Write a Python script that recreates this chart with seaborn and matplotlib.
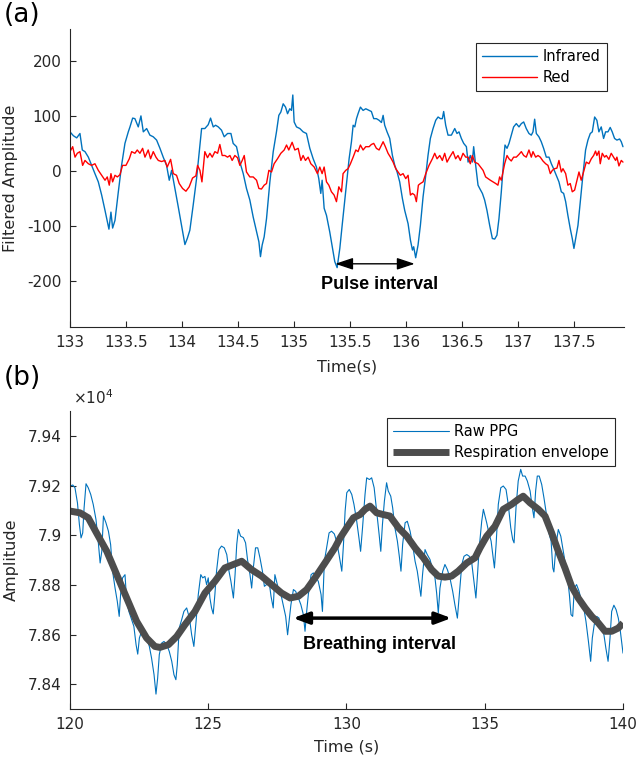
import numpy as np
import pandas as pd
import seaborn as sns
import matplotlib
matplotlib.use("Agg")
import matplotlib.pyplot as plt
from matplotlib.ticker import FixedLocator, FuncFormatter

# ---- (a) filtered PPG, infrared / red ----
ir_t = [133.000, 133.030, 133.060, 133.089, 133.110, 133.134, 133.164, 133.193, 133.223, 133.253,
        133.283, 133.313, 133.348, 133.366, 133.381, 133.402, 133.432, 133.461, 133.491, 133.521,
        133.536, 133.560, 133.580, 133.610, 133.634, 133.655, 133.685, 133.714, 133.744, 133.774,
        133.804, 133.833, 133.863, 133.887, 133.908, 133.938, 133.967, 133.997, 134.027, 134.048,
        134.071, 134.101, 134.131, 134.155, 134.176, 134.205, 134.235, 134.256, 134.280, 134.301,
        134.325, 134.354, 134.378, 134.408, 134.438, 134.458, 134.488, 134.518, 134.548, 134.577,
        134.607, 134.637, 134.667, 134.688, 134.702, 134.717, 134.735, 134.756, 134.786, 134.816,
        134.845, 134.866, 134.884, 134.905, 134.926, 134.944, 134.964, 134.979, 134.991, 135.003,
        135.024, 135.054, 135.083, 135.113, 135.143, 135.173, 135.202, 135.223, 135.241, 135.253,
        135.271, 135.292, 135.321, 135.351, 135.366, 135.387, 135.411, 135.432, 135.470, 135.494,
        135.515, 135.530, 135.545, 135.560, 135.574, 135.595, 135.619, 135.643, 135.673, 135.693,
        135.714, 135.738, 135.762, 135.783, 135.798, 135.812, 135.833, 135.857, 135.881, 135.902,
        135.923, 135.946, 135.970, 135.991, 136.021, 136.042, 136.060, 136.071, 136.089, 136.110,
        136.131, 136.155, 136.179, 136.199, 136.220, 136.244, 136.268, 136.289, 136.310, 136.327,
        136.339, 136.357, 136.378, 136.408, 136.438, 136.458, 136.476, 136.497, 136.518, 136.542,
        136.557, 136.577, 136.595, 136.607, 136.625, 136.646, 136.661, 136.685, 136.705, 136.726,
        136.750, 136.774, 136.795, 136.815, 136.833, 136.854, 136.875, 136.887, 136.905, 136.923,
        136.943, 136.964, 136.988, 137.012, 137.033, 137.054, 137.077, 137.101, 137.122, 137.137,
        137.152, 137.167, 137.190, 137.211, 137.232, 137.256, 137.280, 137.301, 137.321, 137.345,
        137.369, 137.390, 137.411, 137.429, 137.449, 137.470, 137.488, 137.503, 137.518, 137.539,
        137.560, 137.583, 137.607, 137.628, 137.649, 137.667, 137.688, 137.708, 137.726, 137.747,
        137.768, 137.786, 137.807, 137.827, 137.845, 137.866, 137.887, 137.911, 137.926, 137.941]
ir_v = [71, 64, 60, 68, 38, 35, 25, 10, -5, -20,
        -44, -72, -106, -75, -104, -90, -38, 10, 50, 71,
        80, 96, 95, 80, 100, 71, 77, 65, 62, 56,
        41, 25, 10, -17, 1, -32, -65, -99, -134, -123,
        -108, -62, -14, 35, 77, 77, 84, 96, 80, 83,
        80, 74, 62, 68, 68, 50, 44, 16, -5, -32,
        -53, -84, -111, -129, -156, -135, -120, -87, -20, 35,
        71, 101, 107, 122, 116, 104, 113, 110, 138, 89,
        80, 77, 71, 68, 41, 22, 7, -14, -41, -17,
        -68, -81, -111, -147, -165, -176, -141, -99, -26, 22,
        53, 83, 80, 95, 104, 116, 110, 113, 110, 108,
        95, 95, 92, 88, 101, 83, 71, 59, 28, 10,
        -2, -20, -50, -72, -96, -126, -144, -138, -158, -135,
        -99, -47, -8, 28, 59, 77, 92, 98, 95, 95,
        108, 83, 65, 65, 77, 68, 71, 59, 50, 44,
        16, 28, 16, 44, 10, -26, -32, -41, -53, -72,
        -99, -123, -124, -117, -87, -38, 19, 47, 41, 50,
        65, 80, 86, 80, 86, 89, 77, 68, 65, 71,
        94, 68, 62, 53, 41, 25, 25, 13, 4, -8,
        -20, -38, -41, -56, -81, -105, -123, -141, -123, -99,
        -56, -8, 38, 56, 68, 71, 98, 92, 71, 80,
        59, 71, 71, 79, 71, 59, 56, 58, 53, 44]

red_t = [133.000, 133.024, 133.045, 133.065, 133.089, 133.113, 133.134, 133.164, 133.193, 133.223,
         133.253, 133.283, 133.313, 133.333, 133.351, 133.366, 133.381, 133.402, 133.423, 133.446,
         133.470, 133.500, 133.530, 133.551, 133.580, 133.601, 133.625, 133.649, 133.670, 133.699,
         133.720, 133.744, 133.768, 133.789, 133.818, 133.848, 133.869, 133.899, 133.923, 133.952,
         133.976, 134.006, 134.036, 134.065, 134.095, 134.125, 134.140, 134.161, 134.179, 134.205,
         134.229, 134.250, 134.271, 134.295, 134.319, 134.339, 134.360, 134.384, 134.408, 134.429,
         134.449, 134.473, 134.497, 134.518, 134.539, 134.557, 134.577, 134.607, 134.637, 134.667,
         134.688, 134.711, 134.735, 134.756, 134.777, 134.801, 134.824, 134.854, 134.884, 134.914,
         134.935, 134.955, 134.985, 135.009, 135.039, 135.063, 135.083, 135.104, 135.128, 135.152,
         135.182, 135.211, 135.232, 135.253, 135.271, 135.292, 135.313, 135.336, 135.360, 135.381,
         135.402, 135.426, 135.440, 135.464, 135.485, 135.506, 135.530, 135.554, 135.574, 135.595,
         135.619, 135.643, 135.673, 135.693, 135.714, 135.738, 135.762, 135.783, 135.798, 135.818,
         135.842, 135.863, 135.887, 135.911, 135.932, 135.952, 135.976, 136.000, 136.021, 136.042,
         136.060, 136.080, 136.095, 136.113, 136.131, 136.155, 136.179, 136.208, 136.238, 136.259,
         136.280, 136.304, 136.327, 136.348, 136.369, 136.393, 136.423, 136.446, 136.467, 136.488,
         136.512, 136.536, 136.557, 136.577, 136.595, 136.616, 136.646, 136.691, 136.714, 136.735,
         136.756, 136.780, 136.804, 136.824, 136.839, 136.854, 136.869, 136.884, 136.905, 136.923,
         136.943, 136.964, 136.988, 137.012, 137.033, 137.054, 137.077, 137.101, 137.122, 137.137,
         137.161, 137.182, 137.202, 137.226, 137.250, 137.271, 137.292, 137.310, 137.330, 137.351,
         137.369, 137.390, 137.405, 137.429, 137.449, 137.470, 137.488, 137.509, 137.530, 137.548,
         137.568, 137.589, 137.613, 137.637, 137.658, 137.679, 137.696, 137.708, 137.726, 137.738,
         137.756, 137.777, 137.792, 137.815, 137.836, 137.857, 137.875, 137.887, 137.905, 137.926,
         137.941]
red_v = [35, 44, 25, 32, 35, 10, 19, 13, 10, 13,
         1, -8, -17, -11, -26, -5, -20, -8, -11, -7,
         10, 10, 22, 35, 32, 38, 32, 41, 25, 38,
         22, 35, 25, 19, 17, 19, 7, 21, -5, -8,
         -23, -32, -37, -29, -13, -9, 10, 1, -20, 35,
         24, 32, 25, 35, 32, 48, 28, 28, 25, 28,
         19, 28, 24, 10, 19, 28, -2, -11, -11, -17,
         -32, -33, -26, -23, 1, -2, 13, 22, 32, 38,
         47, 38, 52, 38, 41, 19, 28, 19, 25, 13,
         7, -5, 7, -5, 7, -20, -26, -38, -44, -56,
         -29, -38, -5, 1, 4, 13, 25, 38, 35, 47,
         38, 44, 44, 48, 50, 41, 38, 47, 53, 44,
         32, 25, 16, 4, -2, -8, -5, -14, -8, -44,
         -41, -44, -56, -26, -23, -20, -5, 10, 22, 32,
         22, 28, 19, 32, 16, 25, 35, 22, 28, 19,
         32, 25, 25, 13, 28, 16, 13, 1, -11, -14,
         -17, -20, -23, -26, -11, -17, -2, 13, 28, 22,
         18, 25, 25, 30, 35, 28, 25, 38, 25, 35,
         25, 28, 25, 18, 13, 10, -5, 1, 4, 5,
         19, -2, 4, -5, -26, -23, -38, -35, -17, -2,
         -17, -2, 16, 13, 22, 28, 36, 28, 36, 13,
         32, 25, 28, 21, 32, 25, 19, 25, 9, 19,
         16]

# ---- (b) raw PPG and respiration envelope ----
raw_t = [120.00, 120.10, 120.18, 120.27, 120.34, 120.40, 120.46, 120.51, 120.58, 120.66,
         120.75, 120.84, 120.94, 121.02, 121.09, 121.15, 121.21, 121.30, 121.39, 121.47,
         121.54, 121.63, 121.71, 121.78, 121.83, 121.90, 121.99, 122.05, 122.13, 122.23,
         122.31, 122.39, 122.45, 122.51, 122.59, 122.68, 122.77, 122.87, 122.95, 123.04,
         123.11, 123.17, 123.23, 123.32, 123.40, 123.50, 123.59, 123.68, 123.76, 123.83,
         123.88, 123.95, 124.04, 124.12, 124.22, 124.32, 124.40, 124.48, 124.56, 124.64,
         124.73, 124.80, 124.88, 124.94, 125.00, 125.06, 125.12, 125.18, 125.24, 125.30,
         125.39, 125.48, 125.58, 125.67, 125.75, 125.82, 125.91, 125.97, 126.03, 126.09,
         126.17, 126.27, 126.35, 126.42, 126.51, 126.57, 126.63, 126.71, 126.79, 126.87,
         126.96, 127.03, 127.11, 127.20, 127.27, 127.35, 127.41, 127.47, 127.53, 127.63,
         127.71, 127.80, 127.87, 127.93, 127.99, 128.08, 128.16, 128.26, 128.35, 128.44,
         128.50, 128.56, 128.62, 128.72, 128.80, 128.88, 128.98, 129.08, 129.13, 129.20,
         129.28, 129.37, 129.46, 129.56, 129.64, 129.73, 129.83, 129.89, 129.95, 130.01,
         130.10, 130.19, 130.27, 130.37, 130.45, 130.51, 130.58, 130.67, 130.73, 130.83,
         130.91, 131.00, 131.09, 131.18, 131.24, 131.30, 131.37, 131.45, 131.51, 131.60,
         131.67, 131.75, 131.84, 131.91, 131.97, 132.03, 132.12, 132.20, 132.30, 132.39,
         132.48, 132.56, 132.63, 132.69, 132.75, 132.84, 132.92, 133.02, 133.12, 133.20,
         133.26, 133.32, 133.38, 133.48, 133.56, 133.65, 133.74, 133.84, 133.92, 134.01,
         134.08, 134.17, 134.25, 134.35, 134.44, 134.53, 134.61, 134.68, 134.73, 134.80,
         134.89, 134.95, 135.07, 135.15, 135.23, 135.29, 135.35, 135.41, 135.49, 135.58,
         135.67, 135.77, 135.85, 135.94, 136.01, 136.06, 136.13, 136.21, 136.30, 136.37,
         136.46, 136.54, 136.64, 136.72, 136.78, 136.84, 136.90, 136.97, 137.06, 137.14,
         137.24, 137.32, 137.40, 137.46, 137.50, 137.58, 137.66, 137.75, 137.82, 137.90,
         137.99, 138.06, 138.12, 138.18, 138.24, 138.32, 138.41, 138.50, 138.59, 138.66,
         138.75, 138.83, 138.89, 138.96, 139.05, 139.13, 139.23, 139.31, 139.38, 139.46,
         139.53, 139.59, 139.67, 139.75, 139.83, 139.89, 139.95, 140.00]
raw_v = [79198, 79202, 79191, 79130, 79043, 78989, 79009, 79110, 79207, 79191,
         79164, 79124, 79063, 78976, 78888, 78935, 79077, 79050, 79016, 78962,
         78855, 78787, 78734, 78673, 78761, 78828, 78841, 78734, 78693, 78660,
         78633, 78559, 78521, 78586, 78613, 78599, 78586, 78552, 78505, 78438,
         78360, 78424, 78519, 78566, 78572, 78559, 78532, 78492, 78438, 78418,
         78478, 78626, 78660, 78693, 78707, 78666, 78599, 78552, 78653, 78761,
         78841, 78828, 78834, 78801, 78828, 78747, 78707, 78683, 78761, 78855,
         78942, 78956, 78949, 78922, 78855, 78814, 78747, 78841, 78962, 79023,
         78996, 78990, 78969, 78902, 78841, 78787, 78868, 78949, 78949, 78909,
         78855, 78794, 78801, 78814, 78754, 78707, 78841, 78814, 78787, 78761,
         78720, 78673, 78599, 78660, 78720, 78781, 78774, 78747, 78720, 78680,
         78613, 78693, 78761, 78841, 78848, 78834, 78814, 78761, 78693, 78895,
         78949, 79009, 79016, 79005, 78976, 78922, 78855, 78962, 79097, 79171,
         79184, 79164, 79124, 79056, 78989, 78935, 79030, 79164, 79231, 79224,
         79231, 79191, 79097, 79003, 78935, 79043, 79137, 79211, 79178, 79157,
         79110, 79030, 78976, 78915, 78855, 78962, 79050, 79056, 79016, 78962,
         78895, 78855, 78801, 78754, 78841, 78942, 78922, 78902, 78861, 78828,
         78767, 78687, 78787, 78855, 78882, 78861, 78828, 78774, 78720, 78666,
         78761, 78882, 78915, 78922, 78915, 78888, 78814, 78747, 78828, 78949,
         79056, 79104, 79050, 79009, 78976, 78922, 78868, 78962, 79124, 79191,
         79198, 79184, 79124, 79030, 78983, 78969, 79110, 79218, 79265, 79238,
         79238, 79218, 79178, 79110, 79070, 79178, 79238, 79238, 79204, 79151,
         79077, 79009, 78976, 78868, 78852, 78962, 79023, 78996, 78949, 78895,
         78834, 78761, 78680, 78673, 78787, 78801, 78774, 78734, 78700, 78653,
         78572, 78492, 78586, 78640, 78673, 78666, 78626, 78599, 78545, 78492,
         78586, 78693, 78718, 78700, 78666, 78626, 78572, 78525]

env_t = [120.00, 120.36, 120.66, 120.96, 121.33, 121.69, 122.05, 122.41, 122.77, 123.07,
         123.25, 123.56, 123.86, 124.16, 124.52, 124.88, 125.24, 125.60, 125.91, 126.21,
         126.57, 126.93, 127.29, 127.65, 127.96, 128.26, 128.56, 128.86, 129.22, 129.58,
         129.77, 130.01, 130.25, 130.49, 130.67, 130.85, 131.09, 131.33, 131.57, 131.88,
         132.18, 132.48, 132.78, 133.08, 133.32, 133.56, 133.80, 134.04, 134.35, 134.65,
         134.83, 135.07, 135.37, 135.67, 135.97, 136.21, 136.39, 136.64, 136.94, 137.18,
         137.42, 137.66, 137.90, 138.14, 138.38, 138.63, 138.87, 139.11, 139.35, 139.59,
         139.83, 140.00]
env_v = [79097, 79090, 79070, 79009, 78935, 78841, 78747, 78653, 78586, 78552,
         78548, 78559, 78592, 78640, 78693, 78767, 78814, 78868, 78882, 78895,
         78861, 78835, 78801, 78767, 78747, 78754, 78781, 78828, 78888, 78949,
         78989, 79030, 79070, 79083, 79104, 79117, 79090, 79083, 79077, 79030,
         78996, 78949, 78909, 78861, 78835, 78831, 78835, 78855, 78888, 78909,
         78949, 78996, 79036, 79104, 79124, 79144, 79157, 79130, 79104, 79077,
         79009, 78935, 78868, 78794, 78747, 78707, 78673, 78646, 78613, 78613,
         78626, 78646]

top_xticks = [133, 133.5, 134, 134.5, 135, 135.5, 136, 136.5, 137, 137.5]
top_yticks = [-200, -100, 0, 100, 200]
bot_xticks = [120, 125, 130, 135, 140]
bot_yticks = [78400, 78600, 78800, 79000, 79200, 79400]

sns.set_theme(style="ticks")
plt.rcParams["font.family"] = ["DejaVu Sans"]
plt.rcParams["axes.unicode_minus"] = False
AX_C = "#262626"
BLUE = "#0072BD"

fig = plt.figure(figsize=(6.38, 7.6), dpi=100)
ax1 = fig.add_axes([0.1097, 0.5697, 0.8683, 0.3921])
ax2 = fig.add_axes([0.1097, 0.0671, 0.8668, 0.3921])


def style_axis(ax):
    sns.despine(ax=ax)
    for s in ("left", "bottom"):
        ax.spines[s].set_color(AX_C)
        ax.spines[s].set_linewidth(0.8)
    ax.tick_params(direction="in", length=4, width=0.8, color=AX_C,
                   labelcolor=AX_C, labelsize=11, pad=6)
    ax.grid(False)


# (a)
sns.lineplot(x=ir_t, y=ir_v, ax=ax1, color=BLUE, lw=1.0, estimator=None,
             sort=False, label="Infrared")
sns.lineplot(x=red_t, y=red_v, ax=ax1, color="#FF0000", lw=1.0, estimator=None,
             sort=False, label="Red")
ax1.set_xlim(133, 137.95)
ax1.set_ylim(-284, 258)
ax1.xaxis.set_major_locator(FixedLocator(top_xticks))
ax1.yaxis.set_major_locator(FixedLocator(top_yticks))
ax1.xaxis.set_major_formatter(FuncFormatter(lambda v, p: f"{v:g}"))
ax1.yaxis.set_major_formatter(FuncFormatter(lambda v, p: f"{v:g}"))
style_axis(ax1)
ax1.set_xlabel("Time(s)", fontsize=11.5, color=AX_C)
ax1.set_ylabel("Filtered Amplitude", fontsize=11.5, color=AX_C)
ax1.xaxis.set_label_coords(0.5, -0.108)
ax1.yaxis.set_label_coords(-0.093, 0.5)
leg1 = ax1.legend(loc="upper right", bbox_to_anchor=(0.969, 0.953), fontsize=10.5,
                  frameon=True, fancybox=False, framealpha=1, edgecolor=AX_C,
                  handlelength=3.8, handletextpad=0.4, borderpad=0.4,
                  labelspacing=0.4, borderaxespad=0)
leg1.get_frame().set_linewidth(0.8)
for t in leg1.get_texts():
    t.set_color("black")
ax1.annotate("", xy=(136.08, -169), xytext=(135.37, -169),
             arrowprops=dict(arrowstyle="<|-|>,head_length=0.9,head_width=0.3",
                             color="black", lw=1.0, shrinkA=0, shrinkB=0))
ax1.text(135.77, -207, "Pulse interval", ha="center", va="center", color="black",
         fontsize=13, fontweight="bold", family=["Liberation Sans", "DejaVu Sans"])

# (b)
sns.lineplot(x=raw_t, y=raw_v, ax=ax2, color=BLUE, lw=0.8, estimator=None,
             sort=False, label="Raw PPG")
sns.lineplot(x=env_t, y=env_v, ax=ax2, color="#4D4D4D", lw=5.0, estimator=None,
             sort=False, label="Respiration envelope", solid_joinstyle="round",
             solid_capstyle="butt")
ax2.set_xlim(120, 140)
ax2.set_ylim(78300, 79500)
ax2.xaxis.set_major_locator(FixedLocator(bot_xticks))
ax2.yaxis.set_major_locator(FixedLocator(bot_yticks))
ax2.xaxis.set_major_formatter(FuncFormatter(lambda v, p: f"{v:g}"))
ax2.yaxis.set_major_formatter(FuncFormatter(lambda v, p: f"{v / 1e4:g}"))
style_axis(ax2)
ax2.set_xlabel("Time (s)", fontsize=11.5, color=AX_C)
ax2.set_ylabel("Amplitude", fontsize=11.5, color=AX_C)
ax2.xaxis.set_label_coords(0.5, -0.102)
ax2.yaxis.set_label_coords(-0.093, 0.5)
ax2.text(0.005, 1.012, r"$\times10^{4}$", transform=ax2.transAxes, ha="left",
         va="bottom", fontsize=11, color=AX_C)
leg2 = ax2.legend(loc="upper right", bbox_to_anchor=(0.9855, 0.9765), fontsize=10.5,
                  frameon=True, fancybox=False, framealpha=1, edgecolor=AX_C,
                  handlelength=3.8, handletextpad=0.4, borderpad=0.4,
                  labelspacing=0.4, borderaxespad=0)
leg2.get_frame().set_linewidth(0.8)
for t in leg2.get_texts():
    t.set_color("black")
ax2.annotate("", xy=(133.79, 78666), xytext=(128.07, 78666),
             arrowprops=dict(arrowstyle="<|-|>,head_length=0.8,head_width=0.3",
                             color="black", lw=2.5, shrinkA=0, shrinkB=0))
ax2.text(131.18, 78561, "Breathing interval", ha="center", va="center", color="black",
         fontsize=13, fontweight="bold", family=["Liberation Sans", "DejaVu Sans"])

fig.text(0.006, 0.98, "(a)", fontsize=19, ha="left", va="center", color="black")
fig.text(0.006, 0.503, "(b)", fontsize=19, ha="left", va="center", color="black")

fig.savefig("out.png", dpi=100)
